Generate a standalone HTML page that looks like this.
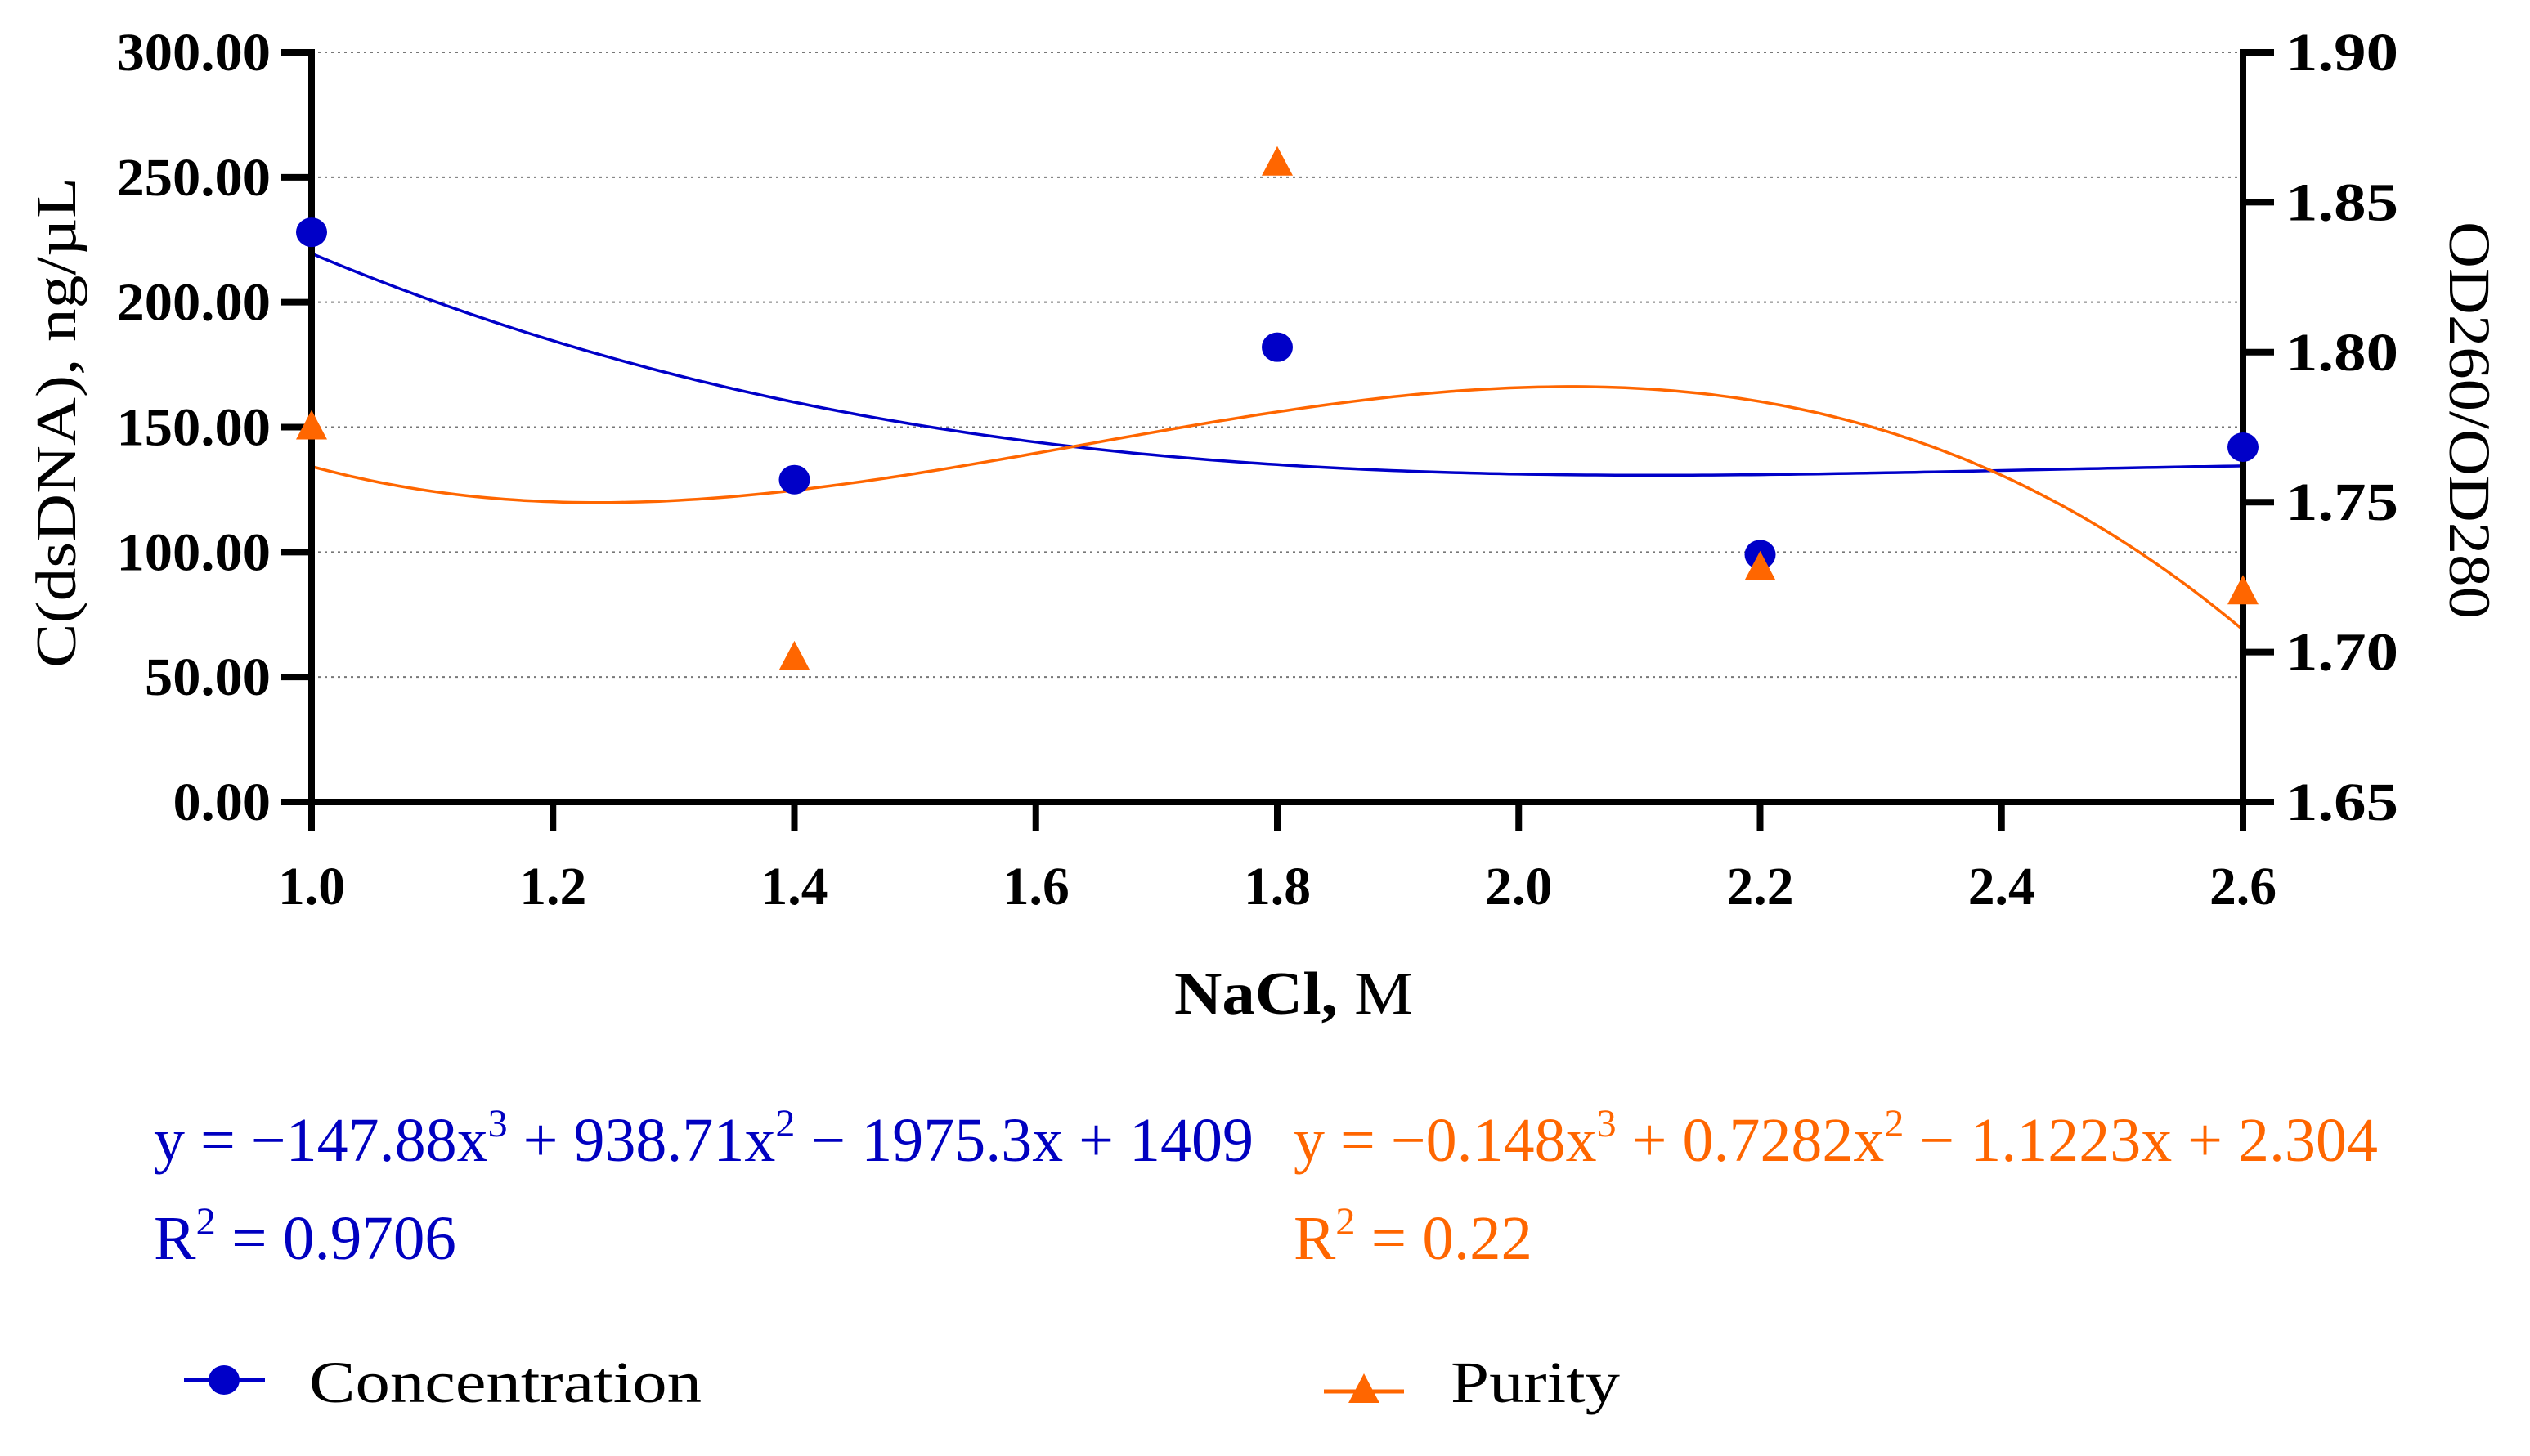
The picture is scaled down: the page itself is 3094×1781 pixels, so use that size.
<!DOCTYPE html>
<html><head><meta charset="utf-8"><style>
html,body{margin:0;padding:0;background:#fff;}
svg{display:block;}
text{font-family:"Liberation Serif",serif;}
</style></head><body>
<svg id="chart" width="3094" height="1781" viewBox="0 0 3094 1781" xmlns="http://www.w3.org/2000/svg"></svg>
<script>
const xTicks = [1.0, 1.2, 1.4, 1.6, 1.8, 2.0, 2.2, 2.4, 2.6];
const xTickLabels = ["1.0","1.2","1.4","1.6","1.8","2.0","2.2","2.4","2.6"];
const leftTicks = [0, 50, 100, 150, 200, 250, 300];
const leftTickLabels = ["0.00","50.00","100.00","150.00","200.00","250.00","300.00"];
const rightTicks = [1.65, 1.70, 1.75, 1.80, 1.85, 1.90];
const rightTickLabels = ["1.65","1.70","1.75","1.80","1.85","1.90"];
const nacl = [1.0, 1.4, 1.8, 2.2, 2.6];
const concentration = [228, 129, 182, 99, 142];
const purity = [1.775, 1.698, 1.863, 1.728, 1.720];
// concentration fitted curve (cubic in u = x - 1.8), as drawn
const concFitCoef = [135, -30.6, 65.6, -35.2];
// purity fitted curve (cubic in x)
const purityFitCoef = [2.304, -1.1223, 0.7282, -0.148];

const NS = "http://www.w3.org/2000/svg";
const svg = document.getElementById("chart");
const X0 = 381, X1 = 2743, Y0 = 981, Y1 = 64;
const xs = v => X0 + (v - 1.0) / 1.6 * (X1 - X0);
const yl = v => Y0 - v / 300 * (Y0 - Y1);
const yr = v => Y0 - (v - 1.65) / 0.25 * (Y0 - Y1);
const BLUE = "#0000C8", ORANGE = "#FF6600";

function mk(tag, attrs, parent) {
  const el = document.createElementNS(NS, tag);
  for (const k in attrs) el.setAttribute(k, attrs[k]);
  (parent || svg).appendChild(el);
  return el;
}
function labelWidth(s) {
  let w = 0;
  for (const ch of s) w += (ch === "." ? 16 : 34.5);
  return w;
}

leftTicks.forEach((t, i) => {
  if (t === 0) return;
  const g = mk("line", {x1: X0, x2: X1, y1: yl(t), y2: yl(t), stroke: "#777", "stroke-width": 2, "stroke-dasharray": "3,5"});
  
  
});

function poly(c, v) { return c[0] + c[1]*v + c[2]*v*v + c[3]*v*v*v; }
let dB = "", dO = "";
for (let i = 0; i <= 200; i++) {
  const x = 1.0 + 1.6 * i / 200;
  const yb = yl(poly(concFitCoef, x - 1.8));
  const yo = yr(poly(purityFitCoef, x));
  dB += (i ? "L" : "M") + xs(x).toFixed(1) + "," + yb.toFixed(1);
  dO += (i ? "L" : "M") + xs(x).toFixed(1) + "," + yo.toFixed(1);
}
const fb = mk("path", {d: dB, fill: "none", stroke: BLUE, "stroke-width": 3.5});


const fo = mk("path", {d: dO, fill: "none", stroke: ORANGE, "stroke-width": 3.5});



const axL = mk("line", {x1: X0, x2: X0, y1: Y1 - 4, y2: Y0 + 36, stroke: "#000", "stroke-width": 8});


const axR = mk("line", {x1: X1, x2: X1, y1: Y1 - 4, y2: Y0 + 36, stroke: "#000", "stroke-width": 8});


const axB = mk("line", {x1: X0 - 37, x2: X1 + 38, y1: Y0, y2: Y0, stroke: "#000", "stroke-width": 8});



leftTicks.forEach((t, i) => {
  mk("line", {x1: X0 - 37, x2: X0, y1: yl(t), y2: yl(t), stroke: "#000", "stroke-width": 8});
  const tx = mk("text", {x: X0 - 50, y: yl(t) + 22, "text-anchor": "end", "font-size": 66, "font-weight": "bold", textLength: labelWidth(leftTickLabels[i]), lengthAdjust: "spacingAndGlyphs"});
  tx.textContent = leftTickLabels[i];
  
  
});
rightTicks.forEach((t, i) => {
  mk("line", {x1: X1, x2: X1 + 38, y1: yr(t), y2: yr(t), stroke: "#000", "stroke-width": 8});
  const tx = mk("text", {x: X1 + 52, y: yr(t) + 22, "text-anchor": "start", "font-size": 66, "font-weight": "bold", textLength: 138, lengthAdjust: "spacingAndGlyphs"});
  tx.textContent = rightTickLabels[i];
  
  
});
xTicks.forEach((t, i) => {
  mk("line", {x1: xs(t), x2: xs(t), y1: Y0, y2: Y0 + 36, stroke: "#000", "stroke-width": 8});
  const tx = mk("text", {x: xs(t), y: 1106, "text-anchor": "middle", "font-size": 66, "font-weight": "bold", textLength: 82, lengthAdjust: "spacingAndGlyphs"});
  tx.textContent = xTickLabels[i];
  
  
});

nacl.forEach((x, i) => {
  const c = mk("ellipse", {cx: xs(x), cy: yl(concentration[i]), rx: 19, ry: 18, fill: BLUE});
  
  
  const cx = xs(x), cy = yr(purity[i]);
  const t = mk("polygon", {points: `${cx},${cy-21} ${cx-19},${cy+15} ${cx+19},${cy+15}`, fill: ORANGE});
  
  
});
</script>
<svg style="position:absolute;left:0;top:0" width="3094" height="1781" xmlns="http://www.w3.org/2000/svg">
  <text transform="translate(92,517) rotate(-90)" text-anchor="middle" font-size="70" textLength="600" lengthAdjust="spacingAndGlyphs">C(dsDNA), ng/µL</text>
  <text transform="translate(2996,514) rotate(90)" text-anchor="middle" font-size="72" textLength="486" lengthAdjust="spacingAndGlyphs">OD260/OD280</text>
  <text x="1436" y="1240" font-size="74" textLength="292" lengthAdjust="spacingAndGlyphs"><tspan font-weight="bold">NaCl,</tspan> M</text>
  <text x="188" y="1420" font-size="76" fill="#0000C0" textLength="1345" lengthAdjust="spacingAndGlyphs">y = −147.88x<tspan dy="-30" font-size="48">3</tspan><tspan dy="30"> + 938.71x</tspan><tspan dy="-30" font-size="48">2</tspan><tspan dy="30"> − 1975.3x + 1409</tspan></text>
  <text x="188" y="1540" font-size="76" fill="#0000C0" textLength="370" lengthAdjust="spacingAndGlyphs">R<tspan dy="-30" font-size="48">2</tspan><tspan dy="30"> = 0.9706</tspan></text>
  <text x="1582" y="1420" font-size="76" fill="#FF6600" textLength="1326" lengthAdjust="spacingAndGlyphs">y = −0.148x<tspan dy="-30" font-size="48">3</tspan><tspan dy="30"> + 0.7282x</tspan><tspan dy="-30" font-size="48">2</tspan><tspan dy="30"> − 1.1223x + 2.304</tspan></text>
  <text x="1582" y="1540" font-size="76" fill="#FF6600" textLength="292" lengthAdjust="spacingAndGlyphs">R<tspan dy="-30" font-size="48">2</tspan><tspan dy="30"> = 0.22</tspan></text>
  <g>
    <line x1="225" x2="324" y1="1688" y2="1688" stroke="#0000C8" stroke-width="5"/>
    <ellipse cx="274" cy="1688" rx="19" ry="18" fill="#0000C8"/>
    <text x="378" y="1715" font-size="72" textLength="480" lengthAdjust="spacingAndGlyphs">Concentration</text>
  </g>
  <g>
    <line x1="1619" x2="1717" y1="1702" y2="1702" stroke="#FF6600" stroke-width="5"/>
    <polygon points="1668,1680 1649,1716 1687,1716" fill="#FF6600"/>
    <text x="1774" y="1715" font-size="72" textLength="207" lengthAdjust="spacingAndGlyphs">Purity</text>
  </g>
</svg>
</body></html>
